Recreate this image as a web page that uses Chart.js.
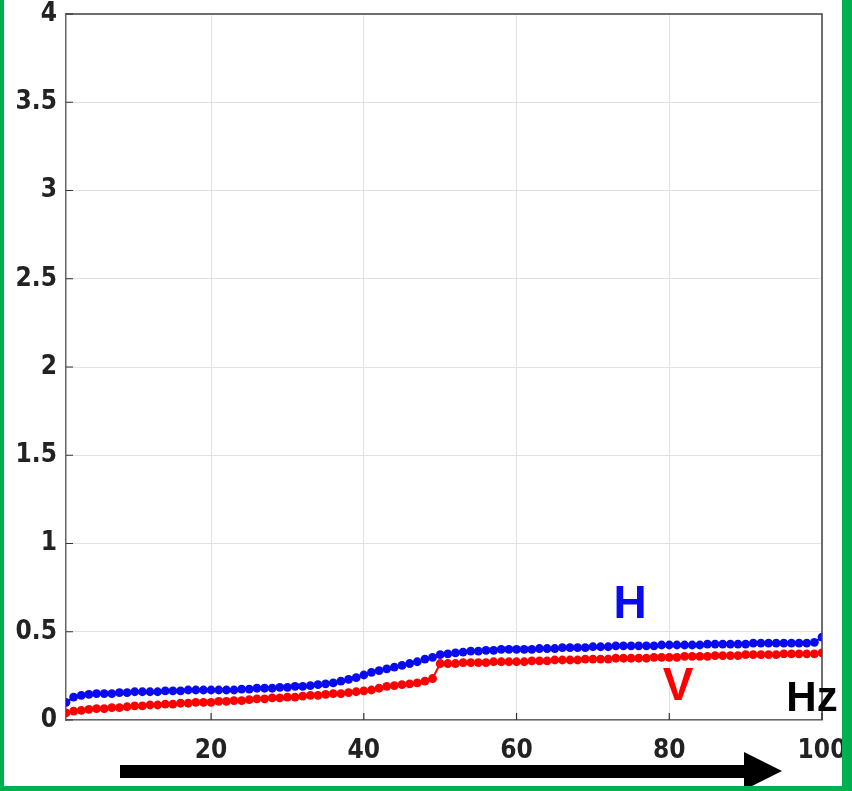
<!DOCTYPE html>
<html>
<head>
<meta charset="utf-8">
<script src="https://cdn.jsdelivr.net/npm/chart.js@4"></script>
<style>
  html, body { margin: 0; padding: 0; background: #fff; }
  #wrap {
    width: 838px; height: 786px;
    border-left: 4px solid #00b050;
    border-right: 10px solid #00b050;
    border-bottom: 5px solid #00b050;
    position: relative;
  }
</style>
</head>
<body>
<div id="wrap"><canvas id="chart" width="838" height="786"></canvas></div>
<script>
// frequency (Hz), 1..100
const freqs = [
  1,2,3,4,5,6,7,8,9,10,11,12,13,14,15,16,17,18,19,20,
  21,22,23,24,25,26,27,28,29,30,31,32,33,34,35,36,37,38,39,40,
  41,42,43,44,45,46,47,48,49,50,51,52,53,54,55,56,57,58,59,60,
  61,62,63,64,65,66,67,68,69,70,71,72,73,74,75,76,77,78,79,80,
  81,82,83,84,85,86,87,88,89,90,91,92,93,94,95,96,97,98,99,100
];

// H series (blue)
const hValues = [
  0.10,0.13,0.14,0.145,0.15,0.15,0.15,0.155,0.155,0.16,
  0.16,0.16,0.16,0.165,0.165,0.165,0.17,0.17,0.17,0.17,
  0.17,0.17,0.17,0.175,0.175,0.18,0.18,0.18,0.185,0.185,
  0.19,0.19,0.195,0.20,0.205,0.21,0.22,0.23,0.24,0.255,
  0.27,0.28,0.29,0.30,0.31,0.32,0.33,0.345,0.355,0.37,
  0.375,0.38,0.385,0.39,0.39,0.395,0.395,0.40,0.40,0.40,
  0.40,0.40,0.405,0.405,0.405,0.41,0.41,0.41,0.41,0.415,
  0.415,0.415,0.42,0.42,0.42,0.42,0.42,0.42,0.425,0.425,
  0.425,0.425,0.425,0.425,0.43,0.43,0.43,0.43,0.43,0.43,
  0.435,0.435,0.435,0.435,0.435,0.435,0.435,0.435,0.44,0.47
];

// V series (red)
const vValues = [
  0.04,0.05,0.055,0.06,0.065,0.065,0.07,0.07,0.075,0.08,
  0.08,0.085,0.085,0.09,0.09,0.095,0.095,0.10,0.10,0.10,
  0.105,0.105,0.11,0.11,0.115,0.12,0.12,0.125,0.125,0.13,
  0.13,0.135,0.14,0.14,0.145,0.15,0.15,0.155,0.16,0.165,
  0.17,0.18,0.19,0.195,0.20,0.205,0.21,0.22,0.235,0.32,
  0.32,0.32,0.325,0.325,0.325,0.325,0.33,0.33,0.33,0.33,
  0.33,0.335,0.335,0.335,0.34,0.34,0.34,0.34,0.345,0.345,
  0.345,0.345,0.35,0.35,0.35,0.35,0.35,0.355,0.355,0.355,
  0.355,0.36,0.36,0.36,0.36,0.365,0.365,0.365,0.365,0.37,
  0.37,0.37,0.37,0.37,0.375,0.375,0.375,0.375,0.375,0.38
];

const xTickValues = [20, 40, 60, 80, 100];
const yTickValues = [0, 0.5, 1, 1.5, 2, 2.5, 3, 3.5, 4];

const tickFont = { family: '"DejaVu Sans Condensed", "DejaVu Sans", sans-serif', size: 26, weight: 'bold' };

// box, inward ticks, labels and arrow
const extras = {
  id: 'extras',
  afterDraw(chart) {
    const ctx = chart.ctx;
    const a = chart.chartArea;
    const xs = chart.scales.x, ys = chart.scales.y;
    ctx.save();
    // box
    ctx.strokeStyle = '#444';
    ctx.lineWidth = 1.5;
    ctx.beginPath();
    ctx.moveTo(a.left, a.top); ctx.lineTo(a.right, a.top); ctx.lineTo(a.right, a.bottom);
    ctx.stroke();
    // inward ticks
    ctx.strokeStyle = '#333';
    ctx.lineWidth = 1.2;
    ctx.beginPath();
    xTickValues.forEach(v => {
      const px = xs.getPixelForValue(v);
      ctx.moveTo(px, a.bottom); ctx.lineTo(px, a.bottom - 7);
    });
    yTickValues.forEach(v => {
      const py = ys.getPixelForValue(v);
      ctx.moveTo(a.left, py); ctx.lineTo(a.left + 7, py);
    });
    ctx.stroke();
    // labels
    ctx.textAlign = 'center';
    ctx.textBaseline = 'middle';
    ctx.font = 'bold 46px "Liberation Sans", Arial, sans-serif';
    ctx.fillStyle = '#0a0af0';
    ctx.fillText('H', 626, 605);
    ctx.fillStyle = '#f00';
    ctx.fillText('V', 674, 687);
    ctx.font = 'bold 42px "Liberation Sans", Arial, sans-serif';
    ctx.fillStyle = '#000';
    ctx.fillText('Hz', 808, 699);
    // arrow
    ctx.fillStyle = '#000';
    ctx.fillRect(116, 765, 628, 13);
    ctx.beginPath();
    ctx.moveTo(740, 752); ctx.lineTo(778, 771); ctx.lineTo(740, 790);
    ctx.closePath();
    ctx.fill();
    ctx.restore();
  }
};

new Chart(document.getElementById('chart'), {
  type: 'line',
  data: {
    datasets: [
      {
        label: 'H',
        data: freqs.map((f, i) => ({ x: f, y: hValues[i] })),
        borderColor: '#0a0af0',
        backgroundColor: '#0a0af0',
        borderWidth: 2,
        pointRadius: 4.4,
        pointBorderWidth: 0,
        tension: 0
      },
      {
        label: 'V',
        data: freqs.map((f, i) => ({ x: f, y: vValues[i] })),
        borderColor: '#f00',
        backgroundColor: '#f00',
        borderWidth: 2,
        pointRadius: 4.4,
        pointBorderWidth: 0,
        tension: 0
      }
    ]
  },
  options: {
    responsive: false,
    animation: false,
    layout: { padding: { top: 14, right: 20, left: 0, bottom: 0 } },
    plugins: { legend: { display: false }, tooltip: { enabled: false } },
    scales: {
      x: {
        type: 'linear',
        min: 1,
        max: 100,
        afterBuildTicks: s => { s.ticks = xTickValues.map(v => ({ value: v })); },
        afterFit: s => { s.height = 66; s.paddingLeft = 0; s.paddingRight = 0; },
        grid: { color: '#e2e2e2', drawTicks: false },
        border: { color: '#666', width: 1.5 },
        ticks: { font: tickFont, color: '#222', padding: 16, maxRotation: 0, callback: v => String(v) }
      },
      y: {
        min: 0,
        max: 4,
        afterBuildTicks: s => { s.ticks = yTickValues.map(v => ({ value: v })); },
        afterFit: s => { s.width = 62; s.paddingTop = 0; s.paddingBottom = 0; },
        grid: { color: '#e2e2e2', drawTicks: false },
        border: { color: '#666', width: 1.5 },
        ticks: { font: tickFont, color: '#222', padding: 9, callback: v => String(v) }
      }
    }
  },
  plugins: [extras]
});
</script>
</body>
</html>
